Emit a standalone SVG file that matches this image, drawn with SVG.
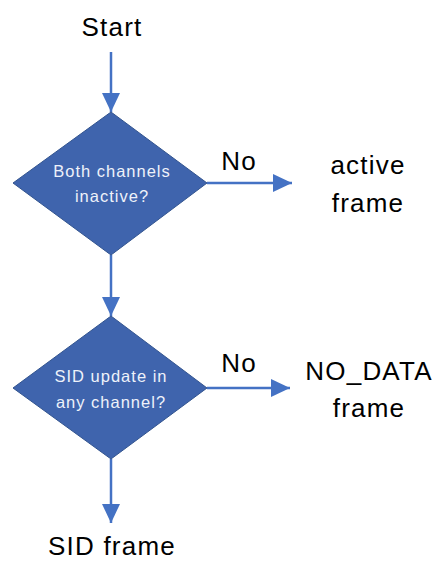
<svg xmlns="http://www.w3.org/2000/svg" width="436" height="562" viewBox="0 0 436 562">
<style>
.big{font-family:"Liberation Sans",Arial,sans-serif;font-size:26px;fill:#000;text-anchor:middle;letter-spacing:1.2px}
.small{font-family:"Liberation Sans",Arial,sans-serif;font-size:16.5px;fill:#eef2fa;text-anchor:middle;letter-spacing:1px}
.dia{fill:#3f64ad;stroke:#32548f;stroke-width:1}
.conn{stroke:#4472c4;stroke-width:2.5;fill:none}
</style>
<defs>
<marker id="ah" markerUnits="userSpaceOnUse" markerWidth="19" markerHeight="18" refX="19" refY="9" orient="auto">
<path d="M0,0 L19,9 L0,18 z" fill="#4472c4"/>
</marker>
</defs>
<g id="connectors">
<line class="conn" x1="111" y1="52" x2="111" y2="112" marker-end="url(#ah)"/>
<line class="conn" x1="111" y1="255" x2="111" y2="316" marker-end="url(#ah)"/>
<line class="conn" x1="111" y1="459" x2="111" y2="523" marker-end="url(#ah)"/>
<line class="conn" x1="207" y1="183" x2="292" y2="183" marker-end="url(#ah)"/>
<line class="conn" x1="207" y1="388" x2="290" y2="388" marker-end="url(#ah)"/>
<text class="big" x="239" y="170" letter-spacing="0">No</text>
<text class="big" x="239" y="372" letter-spacing="0">No</text>
</g>
<g id="start"><text class="big" x="112" y="36">Start</text></g>
<g id="decision1">
<polygon class="dia" points="111,112 207,183 111,255 13,183"/>
<text class="small" x="112" y="177">Both channels</text>
<text class="small" x="112" y="202">inactive?</text>
</g>
<g id="active">
<text class="big" x="368" y="174">active</text>
<text class="big" x="368" y="212">frame</text>
</g>
<g id="decision2">
<polygon class="dia" points="111,316 207,388 111,459 13,388"/>
<text class="small" x="111" y="382">SID update in</text>
<text class="small" x="111" y="408">any channel?</text>
</g>
<g id="nodata">
<text class="big" x="369" y="380">NO_DATA</text>
<text class="big" x="369" y="417">frame</text>
</g>
<g id="sid"><text class="big" x="112" y="555">SID frame</text></g>
</svg>
